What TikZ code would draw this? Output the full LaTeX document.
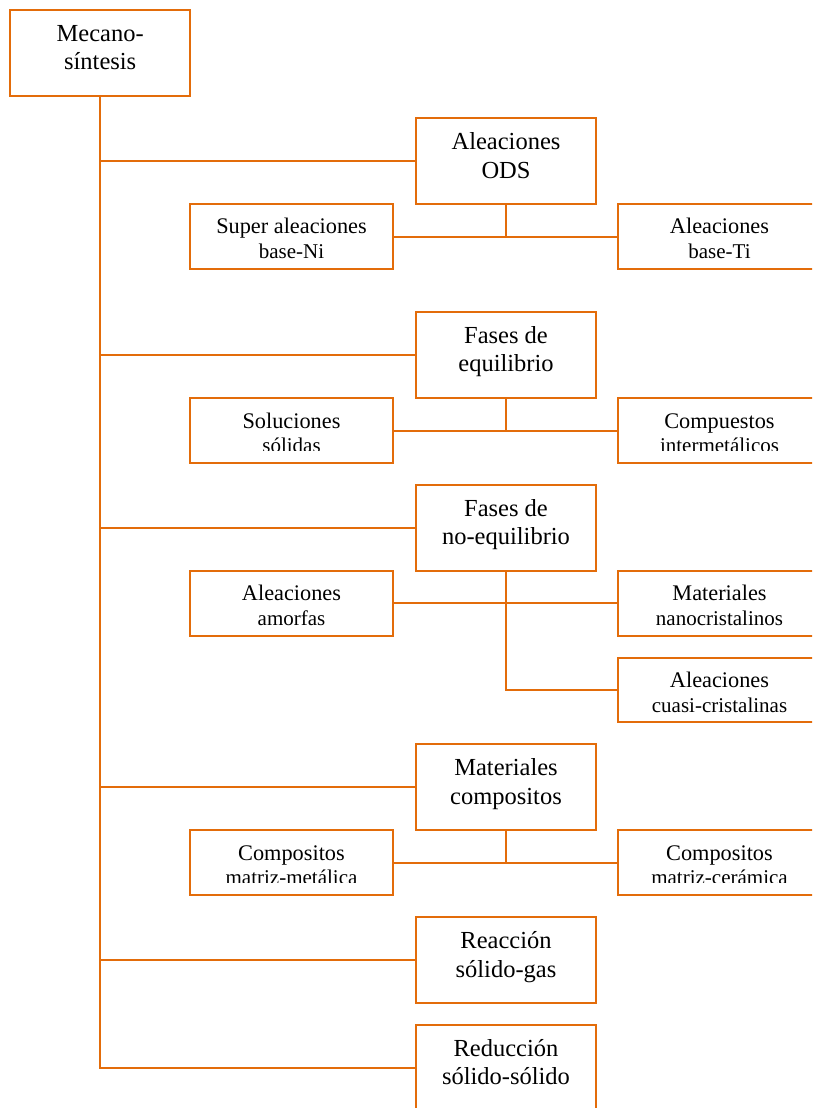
\documentclass[tikz,border=0pt]{standalone}
\usepackage{fontspec}
\setmainfont{Liberation Serif}
\definecolor{borange}{HTML}{E36C0A}
\tikzset{
  boxbase/.style={draw=borange, line width=2pt, inner sep=0pt, fill=white},
  bigbox/.style={boxbase, minimum width=180pt, minimum height=86pt},
  smallbox/.style={boxbase, minimum width=203pt, minimum height=64.5pt},
  bigtxt/.style={inner sep=0pt, anchor=base, font=\fontsize{24.5}{29}\selectfont},
  smtxta/.style={inner sep=0pt, anchor=base, font=\fontsize{22.3}{25}\selectfont},
  smtxtb/.style={inner sep=0pt, anchor=base, font=\fontsize{21}{25}\selectfont},
  conn/.style={draw=borange, line width=2pt}
}
\newcommand\bigbx[5]{%
  \node[bigbox] (#1) at (#2,-#3-43) {};
  \node[bigtxt] (#1-a) at ([yshift=-32.5pt]#1.north) {#4};
  \node[bigtxt] (#1-b) at ([yshift=-61pt]#1.north) {#5};
}
\newcommand\smbx[5]{%
  \node[smallbox] (#1) at (#2,-#3-32.25) {};
  \node[smtxta] (#1-a) at ([yshift=-30.5pt]#1.north) {#4};
  \node[smtxtb] (#1-b) at ([yshift=-55.5pt]#1.north) {#5};
}
\newcommand\smbxcut[5]{%
  \node[smallbox] (#1) at (#2,-#3-32.25) {};
  \node[smtxta] (#1-a) at ([yshift=-31pt]#1.north) {#4};
  \begin{scope}
    \clip ([xshift=-100pt,yshift=-38pt]#1.north) rectangle ([xshift=100pt,yshift=-53.5pt]#1.north);
    \node[smtxtb] (#1-b) at ([yshift=-55.5pt]#1.north) {#5};
  \end{scope}
}
\begin{document}
\begin{tikzpicture}[x=1pt,y=1pt]
\useasboundingbox (0,0) rectangle (812,-1108);
\clip (0,0) rectangle (812,-1108);
\fill[white] (0,0) rectangle (812,-1108);

% main boxes
\bigbx{mec}{100.2}{10}{Mecano-}{síntesis}
\bigbx{ods}{506}{118.3}{Aleaciones}{ODS}
\bigbx{feq}{506}{311.7}{Fases de}{equilibrio}
\bigbx{fno}{506}{484.7}{Fases de}{no-equilibrio}
\bigbx{mco}{506}{744}{Materiales}{compositos}
\bigbx{rea}{506}{917}{Reacción}{sólido-gas}
\bigbx{red}{506}{1024.7}{Reducción}{sólido-sólido}

% sub boxes
\smbx{sni}{291.5}{204.3}{Super aleaciones}{base-Ni}
\smbx{bti}{719.5}{204.3}{Aleaciones}{base-Ti}
\smbxcut{sol}{291.5}{398.3}{Soluciones}{sólidas}
\smbxcut{cin}{719.5}{398.3}{Compuestos}{intermetálicos}
\smbx{amo}{291.5}{571}{Aleaciones}{amorfas}
\smbx{nan}{719.5}{571}{Materiales}{nanocristalinos}
\smbx{cua}{719.5}{657.7}{Aleaciones}{cuasi-cristalinas}
\smbxcut{cmm}{291.5}{830.3}{Compositos}{matriz-metálica}
\smbxcut{cmc}{719.5}{830.3}{Compositos}{matriz-cerámica}

% trunk and branches
\draw[conn] (mec.south) |- (red.west);
\draw[conn] (mec.south |- ods.west) -- (ods.west);
\draw[conn] (mec.south |- feq.west) -- (feq.west);
\draw[conn] (mec.south |- fno.west) -- (fno.west);
\draw[conn] (mec.south |- mco.west) -- (mco.west);
\draw[conn] (mec.south |- rea.west) -- (rea.west);

% sub connectors
\draw[conn] (sni.east) -- (bti.west);
\draw[conn] (ods.south) -- (ods.south |- sni.east);
\draw[conn] (sol.east) -- (cin.west);
\draw[conn] (feq.south) -- (feq.south |- sol.east);
\draw[conn] (amo.east) -- (nan.west);
\draw[conn] (fno.south) |- (cua.west);
\draw[conn] (cmm.east) -- (cmc.west);
\draw[conn] (mco.south) -- (mco.south |- cmm.east);
\end{tikzpicture}
\end{document}
